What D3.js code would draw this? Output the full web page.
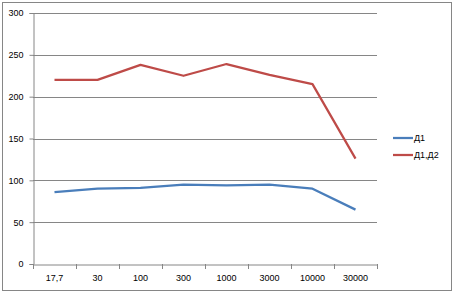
<!DOCTYPE html>
<html>
<head>
<meta charset="utf-8">
<script src="https://cdn.jsdelivr.net/npm/d3@7"></script>
<style>
  body { margin: 0; background: #fff; }
  text { font-family: "Liberation Sans", Arial, sans-serif; font-size: 9px; fill: #000; }
</style>
</head>
<body>
<div id="chart"></div>
<script>
"use strict";

const width = 454,
      height = 293;

// data
const categories = ["17,7", "30", "100", "300", "1000", "3000", "10000", "30000"];
const seriesNames = ["Д1", "Д1,Д2"];
const d1 = [86, 90, 91, 95, 94, 95, 90, 65];
const d1d2 = [220, 220, 238, 225, 239, 226, 215, 126];
const yTicks = [0, 50, 100, 150, 200, 250, 300];
const colors = ["#4a7ebb", "#be4b48"];

const margin = { left: 33, right: 77, top: 13, bottom: 29 };

const svg = d3.select("#chart")
  .append("svg")
  .attr("width", width)
  .attr("height", height);

svg.append("rect")
  .attr("x", 2.5)
  .attr("y", 2.5)
  .attr("width", width - 5)
  .attr("height", height - 5)
  .attr("fill", "#fff")
  .attr("stroke", "#868686");

const x = d3.scaleBand()
  .domain(categories)
  .range([margin.left, width - margin.right]);

const y = d3.scaleLinear()
  .domain([0, 300])
  .range([height - margin.bottom, margin.top]);

// gridlines
svg.append("g")
  .selectAll("line")
  .data(yTicks.slice(1))
  .join("line")
    .attr("x1", margin.left)
    .attr("x2", width - margin.right)
    .attr("y1", d => Math.round(y(d)) + 0.5)
    .attr("y2", d => Math.round(y(d)) + 0.5)
    .attr("stroke", "#868686");

// y axis
const yAxis = svg.append("g")
  .attr("transform", `translate(${margin.left + 0.5},0)`)
  .call(d3.axisLeft(y).tickValues(yTicks).tickSize(4).tickPadding(6));
yAxis.select(".domain").attr("stroke", "#868686");
yAxis.selectAll(".tick line").attr("stroke", "#868686");
yAxis.selectAll(".tick text").style("font-size", "9px");

// x axis
const xAxis = svg.append("g")
  .attr("transform", `translate(0,${Math.round(y(0)) + 0.5})`)
  .call(d3.axisBottom(x).tickSize(0).tickPadding(10));
xAxis.select(".domain").attr("stroke", "#868686");
xAxis.selectAll(".tick line").remove();
xAxis.selectAll(".tick text").style("font-size", "9px");

svg.append("g")
  .selectAll("line")
  .data(categories.concat(["end"]))
  .join("line")
    .attr("x1", (d, i) => Math.round(margin.left + i * x.bandwidth()) + 0.5)
    .attr("x2", (d, i) => Math.round(margin.left + i * x.bandwidth()) + 0.5)
    .attr("y1", Math.round(y(0)))
    .attr("y2", Math.round(y(0)) + 5)
    .attr("stroke", "#868686");

// lines
const line = d3.line()
  .x((d, i) => x(categories[i]) + x.bandwidth() / 2)
  .y(d => y(d));

svg.append("g")
  .selectAll("path")
  .data([d1, d1d2])
  .join("path")
    .attr("d", line)
    .attr("fill", "none")
    .attr("stroke", (d, i) => colors[i])
    .attr("stroke-width", 2.25)
    .attr("stroke-linejoin", "round");

// legend
const legend = svg.append("g")
  .selectAll("g")
  .data(seriesNames)
  .join("g")
    .attr("transform", (d, i) => `translate(393,${138 + i * 17})`);

legend.append("line")
  .attr("x1", 0)
  .attr("x2", 20)
  .attr("stroke", (d, i) => colors[i])
  .attr("stroke-width", 2.25);

legend.append("text")
  .attr("x", 21)
  .attr("dy", "0.35em")
  .text(d => d);
</script>
</body>
</html>
